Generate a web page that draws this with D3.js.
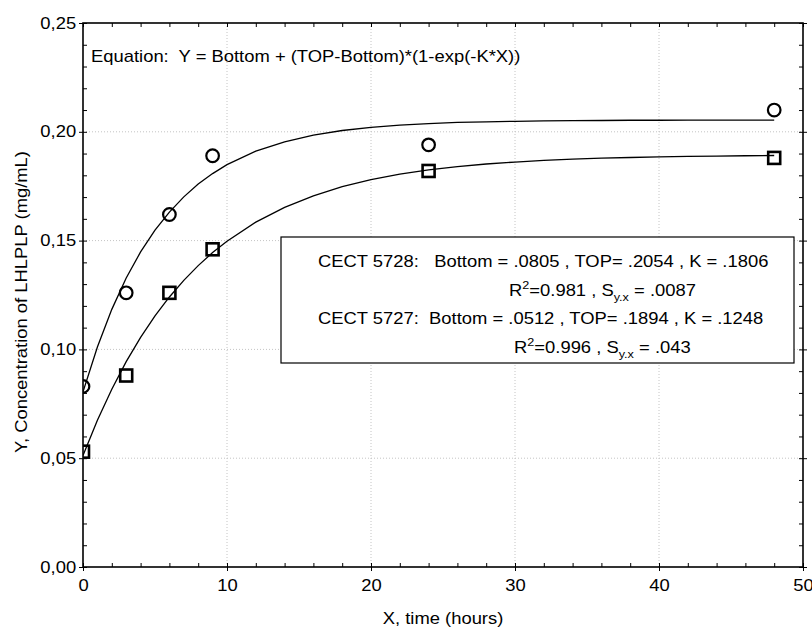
<!DOCTYPE html>
<html><head><meta charset="utf-8">
<script src="https://cdn.jsdelivr.net/npm/d3@7"></script>
<style>
html,body{margin:0;padding:0;background:#fff;}
text{font-family:"Liberation Sans",Arial,sans-serif;fill:#000;}
</style></head>
<body><div id="chart"></div>
<script>
// ---- data ----
const timePoints = [0, 3, 6, 9, 24, 48];
const cect5728 = [0.083, 0.126, 0.162, 0.189, 0.194, 0.210];
const cect5727 = [0.053, 0.088, 0.126, 0.146, 0.182, 0.188];
// fitted curves
const fitX = [0,1,2,3,4,5,6,7,8,9,10,12,14,16,18,20,22,24,26,28,30,32,34,36,38,40,42,44,46,48];
const fit5728 = [0.0805,0.1011,0.1184,0.1328,0.1448,0.1548,0.1631,0.1701,0.1760,0.1808,0.1849,0.1911,0.1954,0.1985,0.2006,0.2020,0.2031,0.2038,0.2043,0.2046,0.2048,0.2050,0.2051,0.2052,0.2053,0.2053,0.2054,0.2054,0.2054,0.2054];
const fit5727 = [0.0512,0.0674,0.0817,0.0944,0.1055,0.1154,0.1241,0.1317,0.1385,0.1445,0.1497,0.1585,0.1653,0.1706,0.1748,0.1780,0.1805,0.1825,0.1840,0.1852,0.1861,0.1869,0.1874,0.1879,0.1882,0.1885,0.1887,0.1888,0.1890,0.1891];
const xTicks = [0, 10, 20, 30, 40, 50];
const yTicks = [0, 0.05, 0.10, 0.15, 0.20, 0.25];
const xMinor = d3.range(0, 51, 2);
const yMinor = d3.range(0, 26, 1).map(d => d / 100);
const xTitle = "X, time (hours)";
const yTitle = "Y, Concentration of LHLPLP (mg/mL)";
const equation = "Equation:  Y = Bottom + (TOP-Bottom)*(1-exp(-K*X))";

// ---- layout ----
const W = 812, H = 629;
const L = 83, R = 803, T = 23, B = 567;
const FS = 16, SX = 1.15;

const svg = d3.select("#chart").append("svg").attr("width", W).attr("height", H);
svg.append("rect").attr("width", W).attr("height", H).attr("fill", "#fff");

const x = d3.scaleLinear().domain([0, 50]).range([L, R]);
const y = d3.scaleLinear().domain([0, 0.25]).range([B, T]);

svg.append("defs").append("clipPath").attr("id", "plotclip")
  .append("rect").attr("x", L).attr("y", T).attr("width", R - L).attr("height", B - T);

// grid
const grid = svg.append("g").attr("stroke", "#c4c4c4").attr("stroke-width", 1).attr("stroke-dasharray", "1,2");
grid.selectAll(".gx").data(xTicks.slice(1, -1)).join("line")
  .attr("x1", d => x(d)).attr("x2", d => x(d)).attr("y1", T).attr("y2", B);
grid.selectAll(".gy").data(yTicks.slice(1, -1)).join("line")
  .attr("y1", d => y(d)).attr("y2", d => y(d)).attr("x1", L).attr("x2", R);

// helper for stretched text
function stext(parent, tx, ty, str, anchor, size, rot) {
  const g = parent.append("g").attr("transform", `translate(${tx},${ty})` + (rot ? ` rotate(${rot})` : ""));
  const t = g.append("text").attr("transform", `scale(${SX},1)`)
    .attr("text-anchor", anchor || "start").attr("font-size", size || FS)
    .style("white-space", "pre").text(str);
  return t;
}

// equation
stext(svg, 91, 62, equation);

// legend box
const box = svg.append("g");
box.append("rect").attr("x", 281).attr("y", 237).attr("width", 513).attr("height", 126)
  .attr("fill", "#fff").attr("stroke", "#000").attr("stroke-width", 1.2);
stext(box, 318, 267, "CECT 5728:   Bottom = .0805 , TOP= .2054 , K = .1806");
function statLine(tx, ty, r2, syx) {
  const t = stext(box, tx, ty, "");
  t.append("tspan").text("R");
  t.append("tspan").attr("font-size", 11).attr("dy", -7).text("2");
  t.append("tspan").attr("dy", 7).text(`=${r2} , S`);
  t.append("tspan").attr("font-size", 11).attr("dy", 5).text("y.x");
  t.append("tspan").attr("dy", -5).text(` = ${syx}`);
}
statLine(509, 296, "0.981", ".0087");
stext(box, 318, 324, "CECT 5727:  Bottom = .0512 , TOP= .1894 , K = .1248");
statLine(514, 353, "0.996", ".043");

// curves
const line = d3.line().x(d => x(d[0])).y(d => y(d[1]));
const plot = svg.append("g").attr("clip-path", "url(#plotclip)");
plot.append("path").datum(fitX.map((d, i) => [d, fit5728[i]])).attr("d", line)
  .attr("fill", "none").attr("stroke", "#000").attr("stroke-width", 1.3);
plot.append("path").datum(fitX.map((d, i) => [d, fit5727[i]])).attr("d", line)
  .attr("fill", "none").attr("stroke", "#000").attr("stroke-width", 1.3);

// markers
plot.selectAll(".c").data(timePoints.map((d, i) => [d, cect5728[i]])).join("circle")
  .attr("cx", d => x(d[0])).attr("cy", d => y(d[1])).attr("r", 6.3)
  .attr("fill", "none").attr("stroke", "#000").attr("stroke-width", 2.2);
plot.selectAll(".s").data(timePoints.map((d, i) => [d, cect5727[i]])).join("rect")
  .attr("x", d => x(d[0]) - 6).attr("y", d => y(d[1]) - 6).attr("width", 12).attr("height", 12)
  .attr("fill", "none").attr("stroke", "#000").attr("stroke-width", 2.6);

// axes
function styleAxis(g) {
  g.select(".domain").remove();
  g.selectAll("line").attr("stroke", "#000").attr("stroke-width", 1);
}
const fmtY = d => d3.format(".2f")(d).replace(".", ",");
svg.append("g").attr("transform", `translate(0,${B})`)
  .call(d3.axisBottom(x).tickValues(xTicks).tickSize(4).tickPadding(9).tickFormat(d3.format("d")))
  .call(styleAxis)
  .call(g => g.selectAll("text").attr("font-size", FS).attr("font-family", "Liberation Sans, Arial, sans-serif").attr("transform", `scale(${SX},1)`));
svg.append("g").attr("transform", `translate(0,${B})`)
  .call(d3.axisBottom(x).tickValues(xMinor).tickSize(-4).tickFormat(""))
  .call(styleAxis);
svg.append("g").attr("transform", `translate(${L},0)`)
  .call(d3.axisLeft(y).tickValues(yTicks).tickSize(4).tickPadding(2).tickFormat(fmtY))
  .call(styleAxis)
  .call(g => g.selectAll("text").attr("font-size", FS).attr("font-family", "Liberation Sans, Arial, sans-serif").attr("transform", `scale(${SX},1)`));
svg.append("g").attr("transform", `translate(${L},0)`)
  .call(d3.axisLeft(y).tickValues(yMinor).tickSize(-4).tickFormat(""))
  .call(styleAxis);
svg.append("g").attr("transform", `translate(0,${T})`)
  .call(d3.axisTop(x).tickValues(xMinor).tickSize(-4).tickFormat(""))
  .call(styleAxis);
svg.append("g").attr("transform", `translate(${R},0)`)
  .call(d3.axisRight(y).tickValues(yMinor).tickSize(-4).tickFormat(""))
  .call(styleAxis);
svg.append("g").attr("transform", `translate(${R},0)`)
  .call(d3.axisRight(y).tickValues(yTicks).tickSize(4).tickFormat(""))
  .call(styleAxis);

// frame
svg.append("rect").attr("x", L).attr("y", T).attr("width", R - L).attr("height", B - T)
  .attr("fill", "none").attr("stroke", "#000").attr("stroke-width", 1.6);

// titles
stext(svg, (L + R) / 2, 624, xTitle, "middle");
stext(svg, 27, 302, yTitle, "middle", FS, -90);
</script></body></html>
